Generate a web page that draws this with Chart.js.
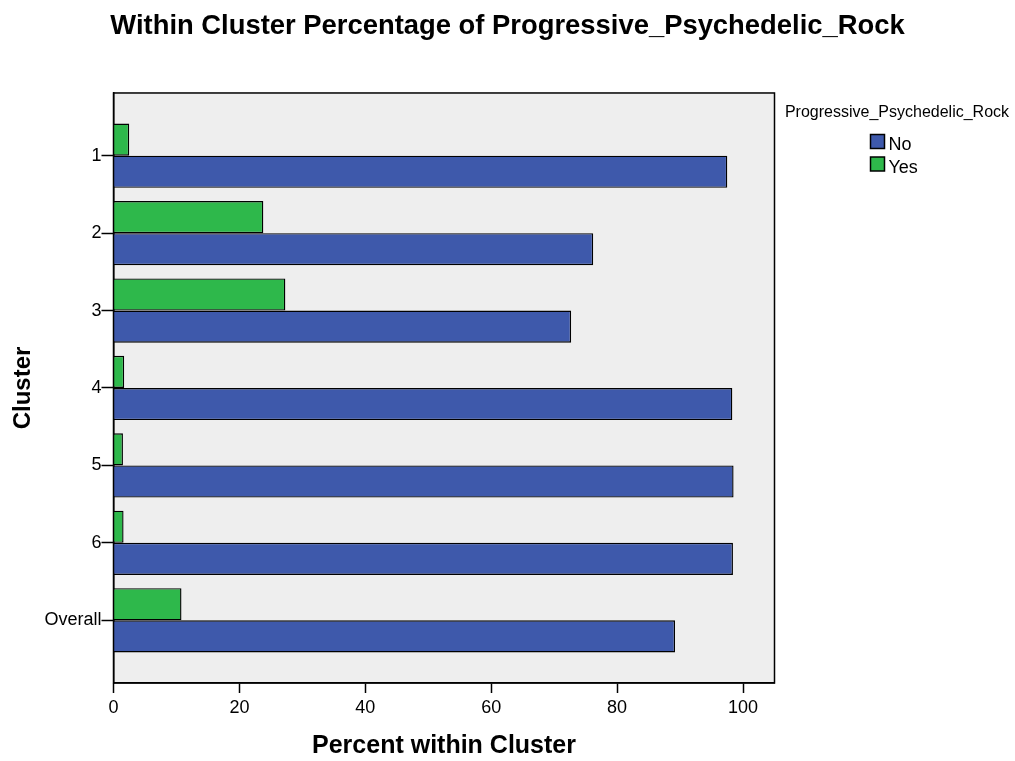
<!DOCTYPE html>
<html>
<head>
<meta charset="utf-8">
<title>Within Cluster Percentage of Progressive_Psychedelic_Rock</title>
<script src="https://cdn.jsdelivr.net/npm/chart.js@4.4.1/dist/chart.umd.min.js"></script>
<style>
    html, body { margin: 0; padding: 0; background: #ffffff; }
    canvas { display: block; }
</style>
</head>
<body>
<canvas id="clusterChart" width="1015" height="761"></canvas>
<script>
// data
const clusters = ['1', '2', '3', '4', '5', '6', 'Overall'];
const yesPct = [2.5, 23.8, 27.3, 1.7, 1.5, 1.6, 10.8];
const noPct = [97.5, 76.2, 72.7, 98.3, 98.5, 98.4, 89.2];
const xTicks = [0, 20, 40, 60, 80, 100];

const FONT = "Arial, 'Liberation Sans', sans-serif";
const BLUE = '#3e59ab';
const GREEN = '#2eb84b';

// grey plot background + frame around it
const plotFrame = {
    id: 'plotFrame',
    beforeDraw(chart) {
        const { ctx, chartArea: a } = chart;
        ctx.save();
        ctx.fillStyle = '#ffffff';
        ctx.fillRect(0, 0, chart.width, chart.height);
        ctx.fillStyle = '#eeeeee';
        ctx.fillRect(a.left, a.top, a.right - a.left, a.bottom - a.top);
        ctx.restore();
    },
    afterDatasetsDraw(chart) {
        const { ctx, chartArea: a } = chart;
        ctx.save();
        ctx.strokeStyle = '#000';
        ctx.lineWidth = 1.5;
        ctx.strokeRect(a.left, a.top, a.right - a.left, a.bottom - a.top);
        ctx.restore();
    }
};

// SPSS style legend to the right of the plot
const sideLegend = {
    id: 'sideLegend',
    afterDraw(chart) {
        const ctx = chart.ctx;
        const sets = chart.data.datasets.slice().reverse();
        ctx.save();
        ctx.fillStyle = '#000';
        ctx.font = '16px ' + FONT;
        ctx.textAlign = 'center';
        ctx.textBaseline = 'alphabetic';
        ctx.fillText('Progressive_Psychedelic_Rock', 897, 117);

        ctx.font = '18px ' + FONT;
        ctx.textAlign = 'left';
        sets.forEach((ds, i) => {
            const y = 134.5 + i * 22.5;
            ctx.fillStyle = ds.backgroundColor;
            ctx.fillRect(870.5, y, 14, 14);
            ctx.strokeStyle = '#000';
            ctx.lineWidth = 1.5;
            ctx.strokeRect(870.5, y, 14, 14);
            ctx.fillStyle = '#000';
            ctx.fillText(ds.label, 888.5, y + 15.5);
        });
        ctx.restore();
    }
};

const ctx = document.getElementById('clusterChart').getContext('2d');

new Chart(ctx, {
    type: 'bar',
    data: {
        datasets: [
            {
                label: 'Yes',
                data: yesPct.map((v, i) => ({ x: v, y: i })),
                backgroundColor: GREEN,
                borderColor: '#000',
                borderWidth: 1.4
            },
            {
                label: 'No',
                data: noPct.map((v, i) => ({ x: v, y: i })),
                backgroundColor: BLUE,
                borderColor: '#000',
                borderWidth: 1.4
            }
        ]
    },
    options: {
        indexAxis: 'y',
        responsive: false,
        animation: false,
        categoryPercentage: 0.83,
        barPercentage: 1,
        layout: { padding: 0 },
        plugins: {
            legend: { display: false },
            tooltip: { enabled: false },
            title: {
                display: true,
                text: 'Within Cluster Percentage of Progressive_Psychedelic_Rock',
                color: '#000',
                font: { family: FONT, size: 27.4, weight: 'bold', lineHeight: 1.2 },
                padding: { top: 10, bottom: 50.1 }
            }
        },
        scales: {
            x: {
                type: 'linear',
                min: 0,
                max: 105,
                afterBuildTicks(scale) {
                    scale.ticks = xTicks.map(v => ({ value: v }));
                },
                afterFit(scale) {
                    scale.height = 78;
                },
                ticks: {
                    color: '#000',
                    font: { family: FONT, size: 18 },
                    padding: 4,
                    maxRotation: 0
                },
                grid: {
                    drawOnChartArea: false,
                    tickLength: 10,
                    tickWidth: 1.5,
                    tickColor: '#000'
                },
                border: { display: true, color: '#000', width: 1.5 },
                title: {
                    display: true,
                    text: 'Percent within Cluster',
                    color: '#000',
                    font: { family: FONT, size: 25, weight: 'bold', lineHeight: 1.2 },
                    padding: { top: 0, bottom: 0 }
                }
            },
            y: {
                type: 'linear',
                reverse: true,
                offset: false,
                min: -0.81,
                max: 6.81,
                afterBuildTicks(scale) {
                    scale.ticks = clusters.map((c, i) => ({ value: i }));
                },
                afterFit(scale) {
                    scale.width = 113.5;
                },
                ticks: {
                    color: '#000',
                    font: { family: FONT, size: 18 },
                    padding: 0,
                    callback: (v) => clusters[v]
                },
                grid: {
                    offset: false,
                    drawOnChartArea: false,
                    tickLength: 12,
                    tickWidth: 1.5,
                    tickColor: '#000'
                },
                border: { display: true, color: '#000', width: 1.5 },
                title: {
                    display: true,
                    text: 'Cluster',
                    color: '#000',
                    font: { family: FONT, size: 24, weight: 'bold', lineHeight: 1.2 },
                    padding: { top: 9, bottom: 0 }
                }
            },
            // empty scale on the right just to reserve room for the legend,
            // so the title still centres on the whole canvas
            legendSpace: {
                type: 'linear',
                position: 'right',
                afterFit(scale) {
                    scale.width = 240.5;
                },
                ticks: { display: false },
                grid: { display: false, drawTicks: false },
                border: { display: false },
                title: { display: false }
            }
        }
    },
    plugins: [plotFrame, sideLegend]
});
</script>
</body>
</html>
